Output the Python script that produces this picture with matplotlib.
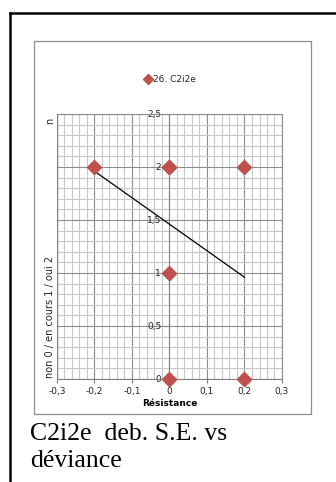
import numpy as np
import matplotlib
matplotlib.use("Agg")
import matplotlib.pyplot as plt
from matplotlib.lines import Line2D
from matplotlib.patches import Rectangle
from matplotlib.ticker import MultipleLocator, FuncFormatter
from matplotlib.transforms import ScaledTranslation

# data
res_x = [-0.2, 0.0, 0.0, 0.2, 0.0, 0.0, 0.2]
state_y = [2, 2, 2, 2, 1, 0, 0]
trend_x = [-0.2, 0.2]
trend_y = [1.96, 0.96]
series_name = "26. C2i2e"
x_ticks = [-0.3, -0.2, -0.1, 0.0, 0.1, 0.2, 0.3]
y_ticks = [0, 0.5, 1, 1.5, 2, 2.5]

W, H = 336, 482
fig = plt.figure(figsize=(W / 100, H / 100), dpi=100)

# page border (left and top)
fig.add_artist(Line2D([10 / W, 10 / W], [0, 1 - 13 / H], color="black", lw=1.8))
fig.add_artist(Line2D([10 / W, 335 / W], [1 - 13 / H, 1 - 13 / H], color="black", lw=1.8))

# chart box
fig.add_artist(Rectangle((34 / W, 1 - 414 / H), (311 - 34) / W, (414 - 41) / H,
                         transform=fig.transFigure, fill=False, ec="#8c8c8c", lw=0.9))

ax = fig.add_axes([57 / W, 1 - 379 / H, (282 - 57) / W, (379 - 114) / H])
ax.set_xlim(-0.3, 0.3)
ax.set_ylim(0, 2.5)

ax.xaxis.set_major_locator(MultipleLocator(0.1))
ax.xaxis.set_minor_locator(MultipleLocator(0.02))
ax.yaxis.set_major_locator(MultipleLocator(0.5))
ax.yaxis.set_minor_locator(MultipleLocator(0.1))
ax.grid(which="major", color="#8c8c8c", lw=0.8)
ax.grid(which="minor", color="#c8c8c8", lw=0.8)
ax.set_axisbelow(True)

fmt = FuncFormatter(lambda v, p: ("%g" % round(v, 2)).replace(".", ","))
ax.xaxis.set_major_formatter(fmt)
ax.yaxis.set_major_formatter(fmt)
ax.set_xticks(x_ticks)
ax.set_yticks(y_ticks)

for s in ["top", "right"]:
    ax.spines[s].set_color("#8c8c8c")
    ax.spines[s].set_linewidth(0.8)
ax.spines["bottom"].set_color("#808080")
ax.spines["left"].set_position(("data", 0))
ax.spines["left"].set_color("#808080")
ax.axvline(-0.3, color="#808080", lw=1.0)

ax.tick_params(axis="both", which="major", labelsize=6.5, length=3, color="#808080",
               labelcolor="#222222", pad=3)
ax.tick_params(axis="both", which="minor", length=0)

ax.plot(trend_x, trend_y, color="black", lw=0.9, zorder=3)
shadow = ax.transData + ScaledTranslation(1 / 100, -1.5 / 100, fig.dpi_scale_trans)
ax.plot(res_x, state_y, linestyle="none", marker="D", markersize=7.5,
        color="#555555", alpha=0.45, mew=0, clip_on=False, zorder=4, transform=shadow)
ax.plot(res_x, state_y, linestyle="none", marker="D", markersize=7.5,
        color="#c0504d", mec="#c0504d", clip_on=False, zorder=5)

ax.set_xlabel("Résistance", fontsize=6.5, fontweight="bold", labelpad=2)

fig.text(50 / W, 1 - 317 / H, "non 0 / en cours 1 / oui 2", rotation=90,
         fontsize=7, ha="center", va="center", color="#222222")
fig.text(50 / W, 1 - 121 / H, "n", rotation=90, fontsize=7,
         ha="center", va="center", color="#222222")

# legend
fig.add_artist(Line2D([148 / W], [1 - 79 / H], marker="D", markersize=5,
                      color="#c0504d", linestyle="none"))
fig.text(153 / W, 1 - 79 / H, series_name, fontsize=6.5, va="center", ha="left",
         color="#222222")

fig.text(30 / W, 1 - 440 / H, "C2i2e  deb. S.E. vs", fontsize=18.5,
         family="Liberation Serif", va="baseline", ha="left")
fig.text(30 / W, 1 - 467 / H, "déviance", fontsize=18.5,
         family="Liberation Serif", va="baseline", ha="left")

fig.savefig("out.png", dpi=100)
